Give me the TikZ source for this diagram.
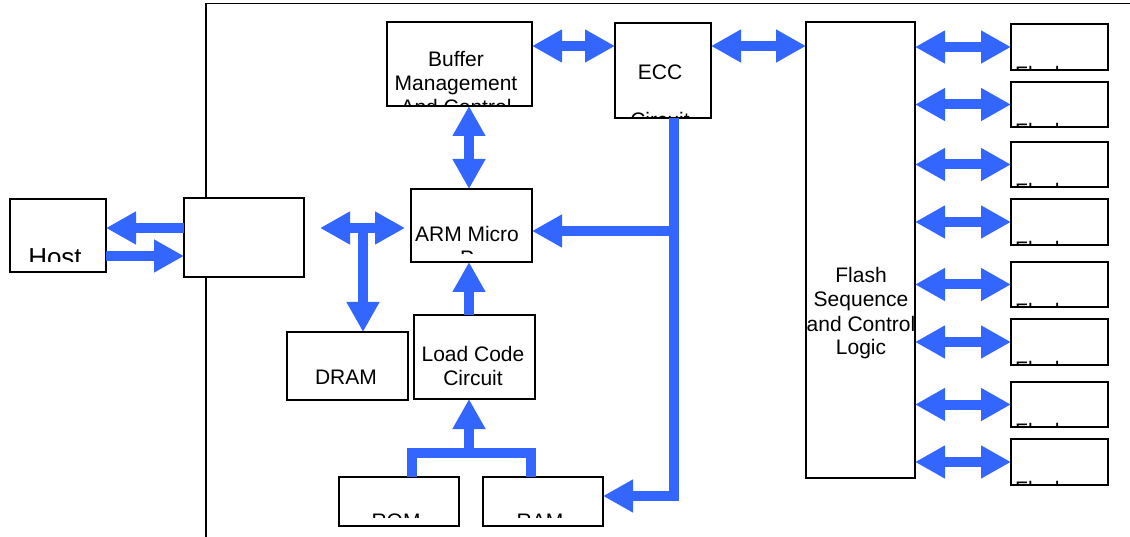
\documentclass[tikz,border=0pt]{standalone}
\usepackage{fontspec}
\setmainfont{Liberation Sans}
\usetikzlibrary{arrows.meta}
\definecolor{busblue}{RGB}{51,102,255}
\newcommand\mkbox[5]{\node[box, minimum width={#4-#2}, minimum height={#5-#3}] (#1) at ({(#2+#4)/2},{(#3+#5)/2}) {};}
\begin{document}
\begin{tikzpicture}[x=1pt,y=-1pt,
  box/.style={draw=black, line width=1.6pt, fill=white, inner sep=0pt, outer sep=0pt},
  txt/.style={font=\fontsize{21}{24}\selectfont, inner sep=0pt, anchor=base},
  bigtxt/.style={font=\fontsize{26}{30}\selectfont, inner sep=0pt, anchor=base},
  bus/.style={draw=busblue, line width=10pt},
  tip/.style={-{Triangle[length=30pt,width=31pt]}},
  dtip/.style={{Triangle[length=30pt,width=31pt]}-{Triangle[length=30pt,width=31pt]}},
]
\useasboundingbox (0,0) rectangle (1130,537);
% outer frame
\coordinate (fb) at (206,537);
\coordinate (ft) at (206,3.5);
\coordinate (fr) at (1130,3.5);
\draw[line width=1.8pt] (fb) -- (ft) -- (fr);

% boxes
\mkbox{host}{10}{199}{106}{272}
\mkbox{iface}{184}{198}{304}{277}
\mkbox{buf}{387}{22}{532}{106}
\mkbox{ecc}{615}{23}{711}{118}
\mkbox{arm}{411}{189}{532}{262}
\mkbox{dram}{287}{332}{408}{400}
\mkbox{load}{414}{315}{535}{399}
\mkbox{rom}{339}{477}{459}{526}
\mkbox{ram}{483}{477}{603}{526}
\mkbox{flash}{806}{22}{915}{478}
\foreach \i/\a/\b in {1/24/70,2/82/127,3/142/187,4/199/245,5/262/307,6/319/365,7/382/427,8/439/485}{
  \mkbox{chip\i}{1011}{\a}{1108}{\b}
  \begin{scope}
    \clip (chip\i.north west) rectangle ([yshift=1pt]chip\i.south east);
    \node[txt, anchor=base west] (chipt\i) at (1015,{\b+11.5}) {Flash};
  \end{scope}
}

% texts
\begin{scope}
  \clip (host.north west) rectangle (106,262);
  \node[bigtxt] (hostt) at (55,266.6) {Host};
\end{scope}
\begin{scope}
  \clip (buf.north west) rectangle (532,105);
  \node[txt] (buft1) at (456,67) {Buffer};
  \node[txt] (buft2) at (456,91) {Management};
  \node[txt] (buft3) at (456,115) {And Control};
\end{scope}
\begin{scope}
  \clip (ecc.north west) rectangle (711,117);
  \node[txt] (ecct1) at (660,80) {ECC};
  \node[txt] (ecct2) at (660,128) {Circuit};
\end{scope}
\begin{scope}
  \clip (arm.north west) rectangle (532,254);
  \node[txt] (armt1) at (467,242) {ARM Micro};
  \node[txt] (armt2) at (467,266) {P};
\end{scope}
\node[txt] (dramt) at (346,384) {DRAM};
\node[txt] (loadt1) at (473,361) {Load Code};
\node[txt] (loadt2) at (473,385) {Circuit};
\begin{scope}
  \clip (rom.north west) rectangle (459,517);
  \node[txt] (romt) at (396,528) {ROM};
\end{scope}
\begin{scope}
  \clip (ram.north west) rectangle (603,517);
  \node[txt] (ramt) at (540,528) {RAM};
\end{scope}
\node[txt] (flt1) at (861,283) {Flash};
\node[txt] (flt2) at (861,307) {Sequence};
\node[txt] (flt3) at (861,331) {and Control};
\node[txt] (flt4) at (861,355) {Logic};

% connectors
\coordinate (hu) at (0,228);
\coordinate (hl) at (0,256);
\draw[bus,tip] (iface.west |- hu) -- (host.east |- hu);
\draw[bus,tip] (host.east |- hl) -- (iface.west |- hl);

\coordinate (dl) at (320,228);
\coordinate (dr) at (405,228);
\coordinate (dj) at (363,228);
\draw[bus,dtip] (dl) -- (dr);
\draw[bus,tip] (dj) -- (dram.north -| dj);

\coordinate (armx) at (469,250);
\draw[bus,dtip] (buf.south -| armx) -- (arm.north -| armx);
\draw[bus,tip] (load.north -| armx) -- (arm.south -| armx);

\coordinate (rs) at (412,453);
\coordinate (as) at (531,453);
\coordinate (rj) at (469,453);
\draw[bus] (rom.north -| rs) -- (rs) -- (as) -- (ram.north -| as);
\draw[bus,tip] (rj) -- (load.south -| rj);

\coordinate (bj) at (674,231);
\coordinate (bc) at (674,496);
\draw[bus,tip] (ecc.south -| bj) -- (bc) -- (ram.east |- bc);
\draw[bus,tip] (bj) -- (arm.east |- bj);

\coordinate (be) at (0,46);
\draw[bus,dtip] (buf.east |- be) -- (ecc.west |- be);
\draw[bus,dtip] (ecc.east |- be) -- (flash.west |- be);

\foreach \i in {1,...,8}{
  \draw[bus,dtip] (flash.east |- chip\i.west) -- (chip\i.west);
}
\end{tikzpicture}
\end{document}
